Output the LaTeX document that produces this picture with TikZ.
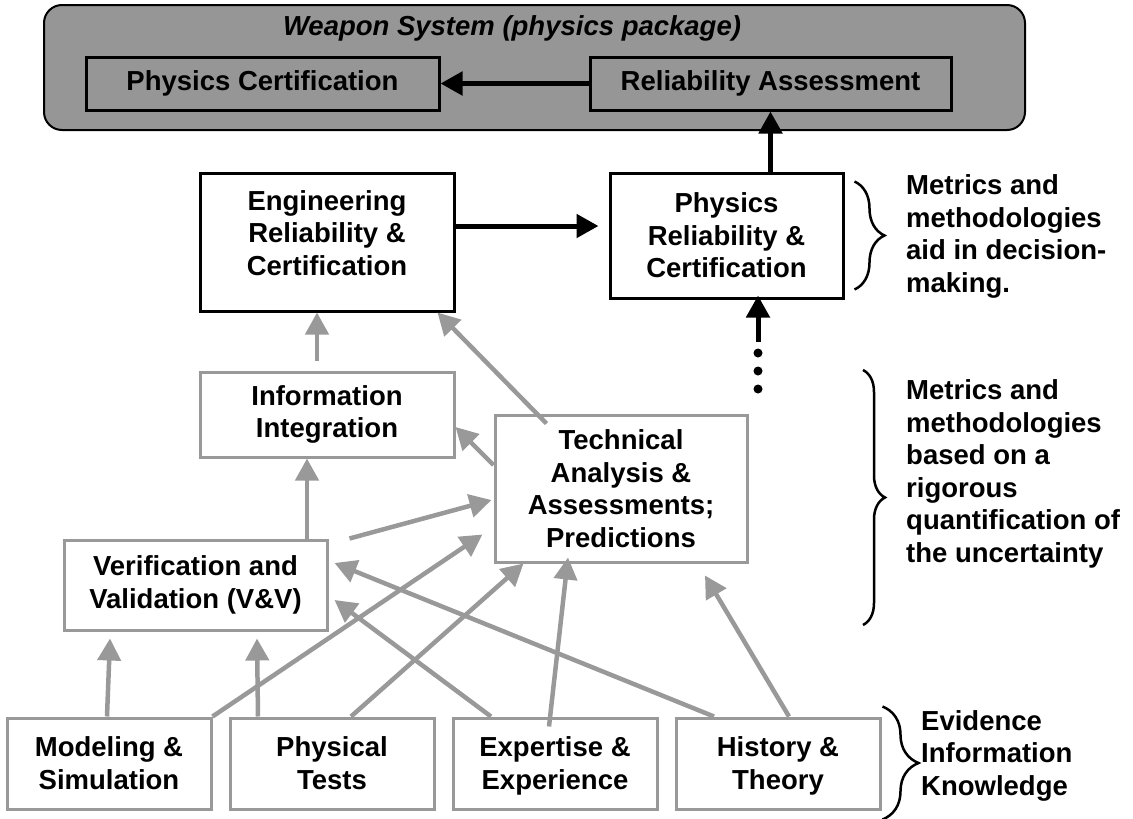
\documentclass[tikz,border=0pt]{standalone}
\usepackage{fontspec}
\setmainfont{Liberation Sans}
\usetikzlibrary{arrows.meta}
\usetikzlibrary{positioning}
\usetikzlibrary{chains}
\usetikzlibrary{decorations.pathreplacing}
\definecolor{shade}{RGB}{153,153,153}
\definecolor{panel}{RGB}{150,150,150}
\tikzset{
	>={Triangle[length=22pt,width=23pt]},
	blackbox/.style={
		rectangle,
		draw=black, line width=3pt,
		align=center,
		inner sep=0pt},
	greybox/.style={
		blackbox,
		draw=shade},
	evidbox/.style={
		greybox,
		minimum width=204pt,
		minimum height=91pt,
		text height=58pt,
		text depth=7pt,
		on chain},
	line/.style={draw, line width=5pt, ->},
	greyline/.style={line, draw=shade, line width=4.5pt},
	tuborg/.style={decorate, decoration={brace, amplitude=#1}, line width=2.5pt},
	note/.style={align=left, inner sep=0pt, anchor=west},
}
\begin{document}
\begin{tikzpicture}
	[x=1pt, y=-1pt, node distance=16pt,
	start chain=going right, font=\fontsize{27.5}{32.5}\selectfont\bfseries]
	\useasboundingbox (0,0) rectangle (1133,819);
	% weapon system panel
	\node[draw=black, line width=2pt, fill=panel, rounded corners=18pt,
		minimum width=981pt, minimum height=125pt] (weapon) at (534.5,67.5) {};
	\node[font=\fontsize{27.5}{32.5}\selectfont\bfseries\itshape] (wtitle) at (512,28) {Weapon System (physics package)};
	\node[blackbox, minimum width=353pt, minimum height=53pt] (physcert) at (262.5,83.5) {Physics Certification};
	\node[blackbox, minimum width=361pt, minimum height=53pt] (relassess) at (770.5,83.5) {Reliability Assessment};
	
	% reliability and certification
	\node[blackbox, minimum width=254pt, minimum height=138pt] (engrel) at (327,242) {Engineering\\Reliability \&\\Certification\\[-14pt]\mbox{}};
	\node[blackbox, minimum width=233pt, minimum height=125pt] (physrel) at (726.5,235.5) {Physics\\Reliability \&\\Certification};
	
	% middle layer
	\node[greybox, minimum width=254pt, minimum height=85pt] (infoint) at (327,414.5) {Information\\Integration};
	\node[greybox, minimum width=252pt, minimum height=147pt] (techan) at (621,488.5) {Technical\\Analysis \&\\Assessments;\\Predictions};
	\node[greybox, minimum width=263pt, minimum height=90pt] (vandv) at (195.5,585) {Verification and\\Validation (V\&V)};
	
	% evidence row
	\node[evidbox] (modsim) at (109,763.5) {Modeling \&\\Simulation};
	\node[evidbox] (phystest) {Physical\\Tests};
	\node[evidbox] (expert) {Expertise \&\\Experience};
	\node[evidbox] (history) {History \&\\Theory};
	
	% black arrows
	\draw[line] (relassess.west) -- (physcert.east);
	\draw[line] ([yshift=16pt]engrel.east) -- ([xshift=-10pt,yshift=9.5pt]physrel.west);
	\draw[line] (physrel.north -| relassess.south) -- (relassess.south);
	\coordinate (dotstop) at (758,342);
	\draw[line] (dotstop) -- ([yshift=4pt]dotstop |- physrel.south);
	\foreach \y in {353,371,389}
		\fill (758,\y) circle (4.5pt);
	
	% grey arrows
	\draw[greyline] ([xshift=-10pt,yshift=10pt]infoint.north) -- ([xshift=-10pt]engrel.south);
	\draw[greyline] ([xshift=-20pt]infoint.south |- vandv.north) -- ([xshift=-20pt]infoint.south);
	\draw[greyline] ([xshift=53pt,yshift=-10pt]techan.north west) -- ([xshift=-18pt]engrel.south east);
	\draw[greyline] ([yshift=23.5pt]techan.west) -- ([yshift=-12.5pt]infoint.east);
	\draw[greyline] ([xshift=21pt]vandv.north east) -- ([xshift=-2pt,yshift=-11.5pt]techan.west);
	\draw[greyline] (modsim.north east) -- ([xshift=-11pt,yshift=29pt]techan.south west);
	\draw[greyline] ([xshift=19pt]phystest.north) -- ([xshift=30pt]techan.south west);
	\draw[greyline] ([xshift=-6pt,yshift=-10pt]expert.north) -- ([xshift=-53pt,yshift=6pt]techan.south);
	\draw[greyline] ([xshift=11pt]history.north) -- ([xshift=84pt,yshift=-12pt]techan.south);
	\draw[greyline] ([xshift=-64pt]expert.north) -- ([xshift=6pt,yshift=-15pt]vandv.east);
	\draw[greyline] ([xshift=-64pt]history.north) -- ([xshift=6pt,yshift=22pt]vandv.east);
	\draw[greyline] ([xshift=-2pt]modsim.north) -- ([xshift=-85.5pt,yshift=-7pt]vandv.south);
	\draw[greyline] ([xshift=-74pt]phystest.north) -- ([xshift=61.5pt,yshift=-7pt]vandv.south);
	
	% braces and notes
	\draw[tuborg=30pt] ([xshift=10pt,yshift=-10pt]physrel.north east) -- ([xshift=10pt,yshift=10pt]physrel.south east);
	\coordinate (btop) at (863,370);
	\coordinate (bbot) at (863,625);
	\draw[tuborg=22pt] (btop) -- (bbot);
	\draw[tuborg=36pt] ([xshift=1pt,yshift=10pt]history.north east) -- ([xshift=1pt,yshift=-9pt]history.south east);
	\node[note] (aidnote) at (906,236.5) {Metrics and\\methodologies\\aid in decision-\\making.};
	\node[note] (uqnote) at (906,474) {Metrics and\\methodologies\\based on a\\rigorous\\quantification of\\the uncertainty};
	\node[note] (evnote) at (921,755.5) {Evidence\\Information\\Knowledge};
\end{tikzpicture}
\end{document}
